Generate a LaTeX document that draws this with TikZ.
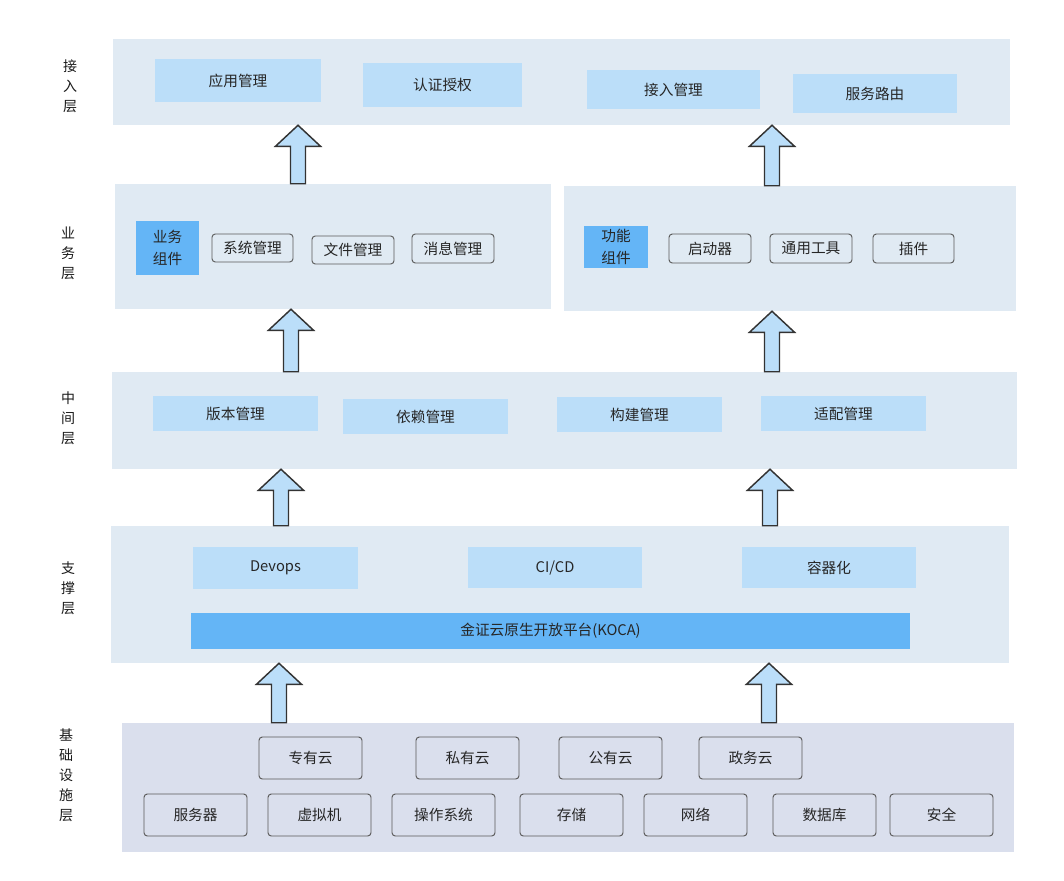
\documentclass[tikz,border=0pt]{standalone}
\usepackage{fontspec}
\setmainfont{Noto Sans CJK SC}
\usepackage{tikz}
\usetikzlibrary{calc}
\usetikzlibrary{fit}
\definecolor{panelblue}{RGB}{224,234,243}
\definecolor{panelgrey}{RGB}{218,223,237}
\definecolor{itemblue}{RGB}{187,222,249}
\definecolor{strongblue}{RGB}{100,181,246}
\tikzset{
    % An exact box between two corner points
    span/.style={fit={#1}, inner sep=0pt},
    % Text written in the middle of a spanned box
    caption/.style={label={[caption text]center:#1}},
    caption text/.style={align=center, text=black!85, inner sep=0pt,
        font=\fontsize{11}{17}\selectfont},
%
    % Background band of one layer
    layer panel/.style={fill=panelblue, draw=none},
%
    % Flat light blue entry
    item/.style={fill=itemblue, draw=none},
    % Stronger blue entry
    strong item/.style={fill=strongblue, draw=none},
    % Outlined entry with rounded corners
    outlined/.style={draw=black!65, rounded corners=2.5pt, line width=0.7pt},
%
    % Vertical layer caption on the left
    layer label/.style={align=center, text=black!90,
        font=\fontsize{10.5}{15}\selectfont},
%
    % Thick hollow arrow between layers
    lift arrow/.style={fill=itemblue, draw=black!80, line width=1.1pt,
        line join=miter}}

% Hollow arrow from the lower panel up to the upper one
\newcommand\liftarrow[3]{%
    \path (#1,0 |- #2.south) coordinate (arrow tip)
          (#1,0 |- #3.north) coordinate (arrow foot);
    \draw[lift arrow] ($(arrow foot)+(-7.5,0)$) -- ($(arrow tip)+(-7.5,21)$)
        -- ($(arrow tip)+(-22.5,21)$) -- (arrow tip)
        -- ($(arrow tip)+(22.5,21)$) -- ($(arrow tip)+(7.5,21)$)
        -- ($(arrow foot)+(7.5,0)$) -- cycle;}

\begin{document}
\begin{tikzpicture}[x=0.75pt, y=-0.75pt]
\useasboundingbox (0,0) rectangle (1064,881);

% Access layer
\node[layer label] (access label) at (70,86) {接\\入\\层};
\node[layer panel, span={(113,39) (1010,125)}] (access layer) {};
\path
    node[item, span={(155,59) (321,102)}, caption=应用管理] (app mgmt) {}
    node[item, span={(363,63) (522,107)}, caption=认证授权] (auth) {}
    node[item, span={(587,70) (760,109)}, caption=接入管理] (access mgmt) {}
    node[item, span={(793,74) (957,113)}, caption=服务路由] (routing) {};

% Business layer, split in two panels
\node[layer label] (business label) at (68,253) {业\\务\\层};
\node[layer panel, span={(115,184) (551,309)}] (business left) {};
\node[layer panel, span={(564,186) (1016,311)}] (business right) {};
\path
    node[strong item, span={(136,221) (199,275)}, caption={业务\\组件}] (business parts) {}
    node[outlined, span={(212,234) (293,262)}, caption=系统管理] (sys mgmt) {}
    node[outlined, span={(312,236) (394,264)}, caption=文件管理] (file mgmt) {}
    node[outlined, span={(412,234) (494,263)}, caption=消息管理] (msg mgmt) {};
\path
    node[strong item, span={(584,226) (648,268)}, caption={功能\\组件}] (function parts) {}
    node[outlined, span={(669,234) (751,263)}, caption=启动器] (starter) {}
    node[outlined, span={(770,234) (852,263)}, caption=通用工具] (tools) {}
    node[outlined, span={(873,234) (954,263)}, caption=插件] (plugins) {};

% Middle layer
\node[layer label] (middle label) at (68,418) {中\\间\\层};
\node[layer panel, span={(112,372) (1017,469)}] (middle layer) {};
\path
    node[item, span={(153,396) (318,431)}, caption=版本管理] (version mgmt) {}
    node[item, span={(343,399) (508,434)}, caption=依赖管理] (depend mgmt) {}
    node[item, span={(557,397) (722,432)}, caption=构建管理] (build mgmt) {}
    node[item, span={(761,396) (926,431)}, caption=适配管理] (adapt mgmt) {};

% Support layer
\node[layer label] (support label) at (68,588) {支\\撑\\层};
\node[layer panel, span={(111,526) (1009,663)}] (support layer) {};
\path
    node[item, span={(193,547) (358,589)}, caption=Devops] (devops) {}
    node[item, span={(468,547) (642,588)}, caption=CI/CD] (cicd) {}
    node[item, span={(742,547) (916,588)}, caption=容器化] (container) {}
    node[strong item, span={(191,613) (910,649)},
        caption={金证云原生开放平台(KOCA)}] (koca) {};

% Infrastructure layer
\node[layer label] (base label) at (66,775) {基\\础\\设\\施\\层};
\node[layer panel, fill=panelgrey, span={(122,723) (1014,852)}] (base layer) {};
\path
    node[outlined, span={(259,737) (362,779)}, caption=专有云] (dedicated cloud) {}
    node[outlined, span={(416,737) (519,779)}, caption=私有云] (private cloud) {}
    node[outlined, span={(559,737) (662,779)}, caption=公有云] (public cloud) {}
    node[outlined, span={(699,737) (802,779)}, caption=政务云] (gov cloud) {};
\path
    node[outlined, span={(144,794) (247,836)}, caption=服务器] (server) {}
    node[outlined, span={(268,794) (371,836)}, caption=虚拟机] (vm) {}
    node[outlined, span={(392,794) (495,836)}, caption=操作系统] (os) {}
    node[outlined, span={(520,794) (623,836)}, caption=存储] (storage) {}
    node[outlined, span={(644,794) (747,836)}, caption=网络] (network) {}
    node[outlined, span={(773,794) (876,836)}, caption=数据库] (database) {}
    node[outlined, span={(890,794) (993,836)}, caption=安全] (security) {};

% Arrows between the layers
\liftarrow{298}{access layer}{business left}
\liftarrow{772}{access layer}{business right}
\liftarrow{291}{business left}{middle layer}
\liftarrow{772}{business right}{middle layer}
\liftarrow{281}{middle layer}{support layer}
\liftarrow{770}{middle layer}{support layer}
\liftarrow{279}{support layer}{base layer}
\liftarrow{769}{support layer}{base layer}

\end{tikzpicture}
\end{document}
